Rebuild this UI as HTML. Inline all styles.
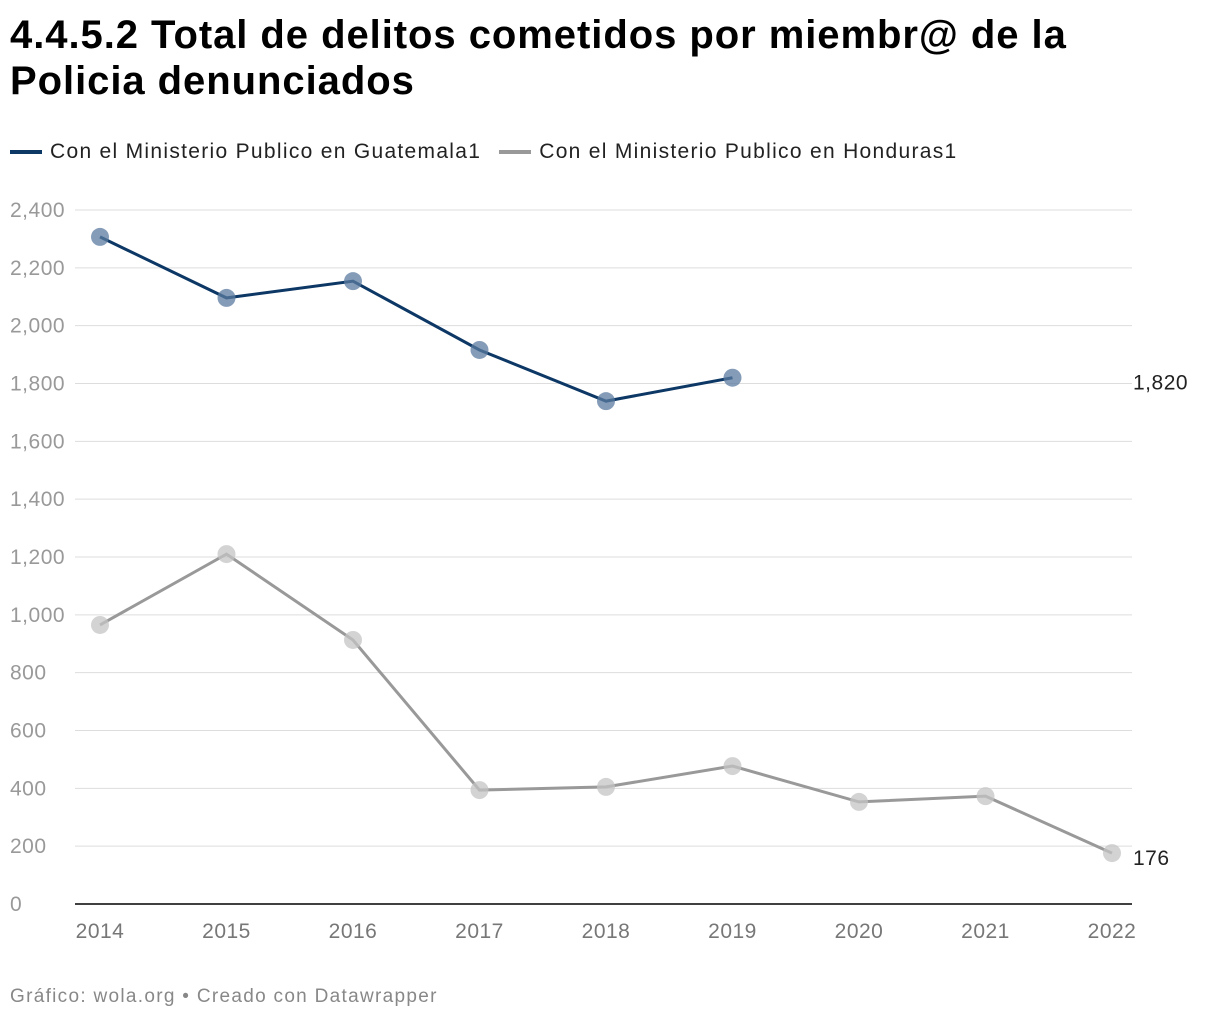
<!DOCTYPE html>
<html><head><meta charset="utf-8"><style>
body{margin:0;background:#fff;width:1220px;height:1020px;overflow:hidden;font-family:"Liberation Sans",sans-serif}
h1{position:absolute;left:10px;top:12px;margin:0;font-size:40px;line-height:46px;font-weight:bold;color:#000;letter-spacing:0.95px}
.legend{position:absolute;top:140px;left:10px;font-size:21px;color:#222;display:flex;gap:18px;letter-spacing:1.3px}
.legend span{display:flex;align-items:center}
.legend i{display:inline-block;width:32px;height:4px;margin-right:8px}
.foot{position:absolute;left:10px;top:986px;font-size:19px;color:#888;letter-spacing:1.3px}
svg{position:absolute;left:0;top:0}
</style></head><body>
<h1>4.4.5.2 Total de delitos cometidos por miembr@ de la<br>Policia denunciados</h1>
<div class="legend">
<span><i style="background:#0d3866"></i>Con el Ministerio Publico en Guatemala1</span>
<span><i style="background:#999"></i>Con el Ministerio Publico en Honduras1</span>
</div>
<svg id="chart" width="1220" height="1020"></svg>
<div class="foot">Gráfico: wola.org • Creado con Datawrapper</div>
<script>
const years=[2014,2015,2016,2017,2018,2019,2020,2021,2022];
const guatemala=[2307,2096,2154,1916,1739,1820,null,null,null];
const honduras=[965,1210,913,394,405,477,353,373,176];
const yTicks=[0,200,400,600,800,1000,1200,1400,1600,1800,2000,2200,2400];
const yTickLabels=["0","200","400","600","800","1,000","1,200","1,400","1,600","1,800","2,000","2,200","2,400"];
const svg=document.getElementById('chart');const NS='http://www.w3.org/2000/svg';
const x=i=>100+i*(1112-100)/(years.length-1);
const y=v=>904-v*(904-210)/2400;
function el(t,a,p){const e=document.createElementNS(NS,t);for(const k in a)e.setAttribute(k,a[k]);(p||svg).appendChild(e);return e;}
yTicks.forEach((v,i)=>{
 const g=el('line',{x1:75,x2:1132,y1:y(v),y2:y(v),stroke:v===0?'#000':'#ddd','stroke-width':v===0?1.5:1});
 
 
 const t=el('text',{x:10,y:y(v)+7,'font-size':21,fill:'#999','letter-spacing':0.5});t.textContent=yTickLabels[i];
 
 
});
years.forEach((yr,i)=>{const t=el('text',{x:x(i),y:938,'font-size':21,fill:'#777','text-anchor':'middle','letter-spacing':0.5});t.textContent=yr;
 
 });
function series(data,color,dot,name){
 const pts=[];data.forEach((v,i)=>{if(v!==null)pts.push([x(i),y(v)]);});
 const p=el('polyline',{points:pts.map(p=>p.join(',')).join(' '),fill:'none',stroke:color,'stroke-width':3});
 
 
 pts.forEach(pt=>{const c=el('circle',{cx:pt[0],cy:pt[1],r:9,fill:dot,'fill-opacity':0.75});
 
 });
 const last=data.reduce((a,v,i)=>v!==null?i:a,0);
 const t=el('text',{x:1133,y:y(data[last])+12,'font-size':21,fill:'#222','letter-spacing':0.5});t.textContent=data[last].toLocaleString('en-US');
 
 
}
series(honduras,'#999','#c4c4c4','honduras');
series(guatemala,'#0d3866','#5b7ba0','guatemala');
</script>
</body></html>
